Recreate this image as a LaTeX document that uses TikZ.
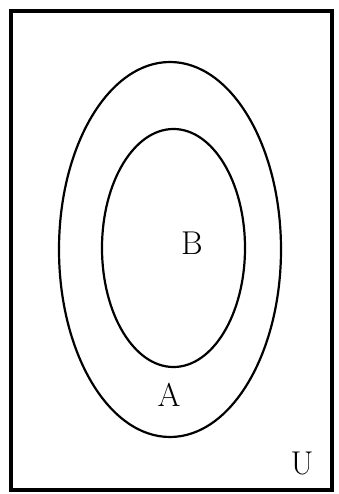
\documentclass[tikz,border=0pt]{standalone}
\usepackage{tikz}
\usetikzlibrary{positioning}

\begin{document}
\begin{tikzpicture}[
  x=1pt, y=-1pt,
  frame/.style={draw, line width=3.4pt},
  setline/.style={draw, line width=2.2pt},
  lab/.style={font=\fontsize{33}{36}\selectfont, inner sep=0pt},
]
\useasboundingbox (0,0) rectangle (339,494);
\draw[frame] (11,11) rectangle (332,490);
\draw[setline] (170,249.5) ellipse [x radius=111, y radius=187.5];
\draw[setline] (173.5,248) ellipse [x radius=71.5, y radius=119];
\node[lab] (b) at (192,243) {B};
\node[lab] (a) at (169,395) {A};
\node[lab] (u) at (302,463) {U};
\end{tikzpicture}
\end{document}
